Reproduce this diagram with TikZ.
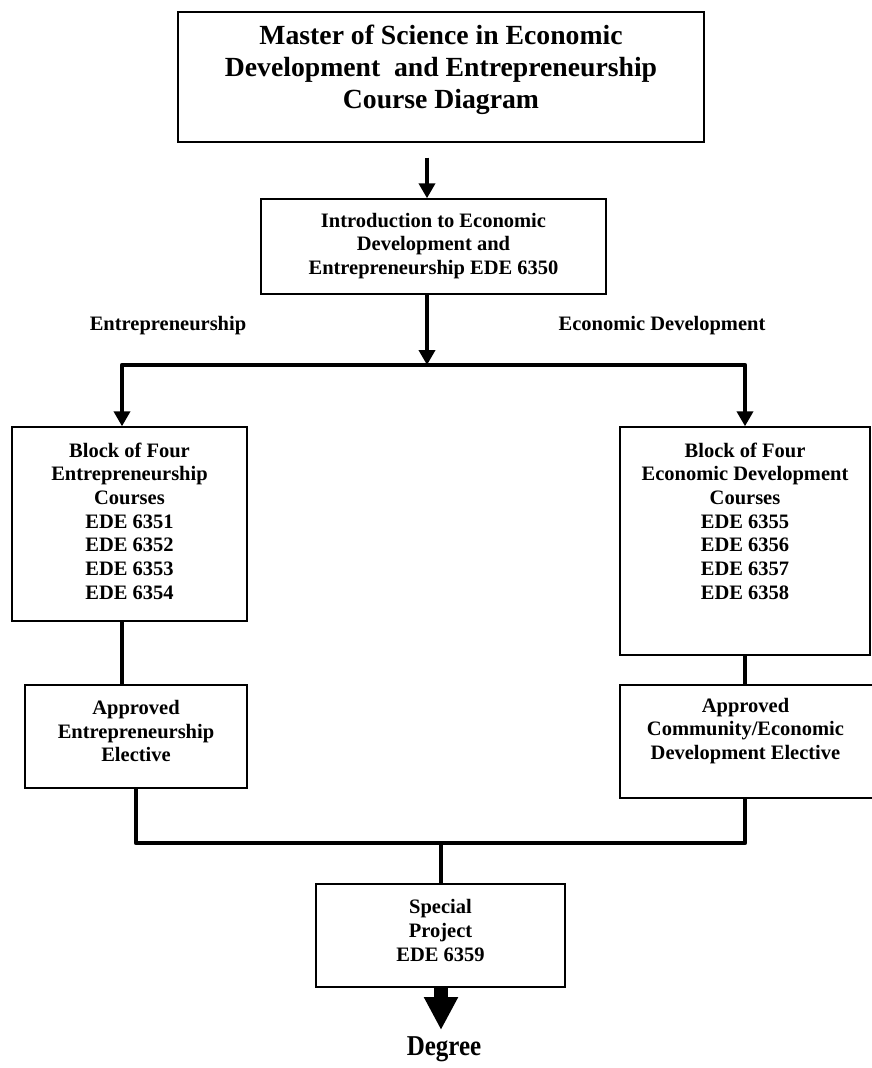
\documentclass[tikz,border=0pt]{standalone}
\usepackage{fontspec}
\setmainfont{Liberation Serif}
\usetikzlibrary{arrows.meta}
\begin{document}
\begin{tikzpicture}[x=1pt,y=-1pt,
  box/.style={draw,line width=1.4pt,inner sep=0pt},
  txt/.style={font=\bfseries\fontsize{20.5}{23.7}\selectfont,align=center,inner sep=0pt},
  bigtxt/.style={font=\bfseries\fontsize{27.7}{32}\selectfont,align=center,inner sep=0pt},
  conn/.style={line width=4.8pt,line join=round},
  arr/.style={conn,-{Triangle[width=16pt,length=15pt]}}]
\useasboundingbox (0,0) rectangle (871,1068);

% boxes
\node[box,minimum width=526pt,minimum height=130pt] (title) at (441,77) {};
\node[box,minimum width=345pt,minimum height=95pt] (intro) at (433.5,246.5) {};
\node[box,minimum width=235pt,minimum height=194pt] (blockL) at (129.5,524) {};
\node[box,minimum width=250pt,minimum height=228pt] (blockR) at (745,541) {};
\node[box,minimum width=222pt,minimum height=103pt] (eleL) at (136,736.5) {};
\node[box,minimum width=255pt,minimum height=113pt] (eleR) at (747.5,741.5) {};
\node[box,minimum width=249pt,minimum height=103pt] (special) at (440.5,935.5) {};

% texts
\node[bigtxt] (titleT) at (441,70) {Master of Science in Economic\\Development\ \ and Entrepreneurship\\Course Diagram};
\node[txt] (introT) at (433.5,246) {Introduction to Economic\\Development and\\Entrepreneurship EDE 6350};
\node[txt] (labL) at (168,326) {Entrepreneurship};
\node[txt] (labR) at (662,326) {Economic Development};
\node[txt] (blockLT) at (129.5,521) {Block of Four\\Entrepreneurship\\Courses\\EDE 6351\\EDE 6352\\EDE 6353\\EDE 6354};
\node[txt] (blockRT) at (745,521) {Block of Four\\Economic Development\\Courses\\EDE 6355\\EDE 6356\\EDE 6357\\EDE 6358};
\node[txt] (eleLT) at (136,731) {Approved\\Entrepreneurship\\Elective};
\node[txt] (eleRT) at (745.5,731) {Approved\\Community/Economic\\Development Elective};
\node[txt] (specialT) at (440.5,930.5) {Special\\Project\\EDE 6359};
\node[inner sep=0pt,font=\bfseries\fontsize{25}{28}\selectfont,yscale=1.15] (degree) at (444,1049) {Degree};

% connector points
\coordinate (fM) at (427,365);
\coordinate (fL) at (122,365);
\coordinate (fR) at (745,365);
\coordinate (gL) at (136,843);
\coordinate (gR) at (745,843);
\coordinate (gM) at (441,843);
\coordinate (tip) at (441,1030);

% connectors
\draw[arr,shorten <=15pt] (title.south -| fM) -- (intro.north -| fM);
\draw[arr] (intro.south -| fM) -- (fM);
\draw[arr] (fM) -| (blockL.north -| fL);
\draw[arr] (fM) -| (blockR.north -| fR);
\draw[conn] (blockL.south -| fL) -- (eleL.north -| fL);
\draw[conn] (blockR.south -| fR) -- (eleR.north -| fR);
\draw[conn] (eleL.south -| gL) -- (gL) -- (gR) -- (eleR.south -| gR);
\draw[conn] (gM) -- (special.north -| gM);
\draw[line width=14pt,-{Triangle[width=32pt,length=33pt]}] (special.south -| gM) -- (tip);
\end{tikzpicture}
\end{document}
